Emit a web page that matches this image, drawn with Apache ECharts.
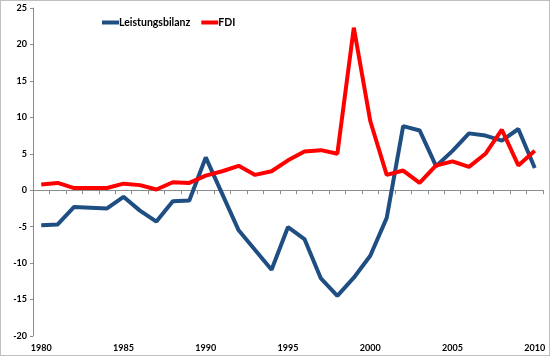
<!DOCTYPE html>
<html><head><meta charset="utf-8">
<script src="https://cdn.jsdelivr.net/npm/echarts@6/dist/echarts.min.js"></script>
<style>
html,body{margin:0;padding:0;background:#fff;}
#c{width:550px;height:356px;box-sizing:border-box;border:1px solid #BFBFBF;}
</style></head>
<body><div id="c"></div>
<script>
const years = ['1980','1981','1982','1983','1984','1985','1986','1987','1988','1989','1990','1991','1992','1993','1994','1995','1996','1997','1998','1999','2000','2001','2002','2003','2004','2005','2006','2007','2008','2009','2010'];
const leistungsbilanz = [-4.8,-4.7,-2.3,-2.4,-2.5,-0.9,-2.8,-4.3,-1.5,-1.4,4.5,-0.5,-5.5,-8.2,-10.9,-5.05,-6.7,-12.1,-14.5,-12.0,-9.0,-3.8,8.8,8.2,3.3,5.4,7.8,7.5,6.8,8.4,3.05];
const fdi = [0.8,1.0,0.3,0.3,0.3,0.9,0.7,0.1,1.1,1.0,2.0,2.6,3.35,2.1,2.6,4.1,5.3,5.5,5.0,22.3,9.5,2.1,2.7,1.0,3.4,3.95,3.2,5.0,8.3,3.4,5.4];
const yMin = -20, yMax = 25, yStep = 5;

const chart = echarts.init(document.getElementById('c'));
const font = 'Lato, "Open Sans", sans-serif';
chart.setOption({
  animation:false,
  grid:{left:32,right:6,top:7,bottom:19,containLabel:false},
  legend:{
    left:96, top:11,
    itemWidth:17, itemHeight:4, itemGap:11,
    icon:'rect',
    textStyle:{fontFamily:font,fontWeight:'bold',fontSize:10.5,color:'#000',padding:[0,0,0,-5]},
    data:['Leistungsbilanz','FDI']
  },
  xAxis:[{
    type:'category', data:years, boundaryGap:true,
    axisLine:{onZero:true,lineStyle:{color:'#8C8C8C',width:1}},
    axisTick:{show:true,interval:0,length:4,lineStyle:{color:'#8C8C8C'}},
    axisLabel:{show:false}
  },{
    type:'category', data:years, boundaryGap:true, position:'bottom',
    axisLine:{show:false,onZero:false}, axisTick:{show:false},
    axisLabel:{interval:4,fontFamily:font,fontWeight:'bold',fontSize:9,color:'#000',margin:8}
  }],
  yAxis:{
    type:'value', min:yMin, max:yMax, interval:yStep,
    axisLine:{show:true,lineStyle:{color:'#8C8C8C'}},
    axisTick:{show:true,length:3,lineStyle:{color:'#8C8C8C'}},
    splitLine:{show:false},
    axisLabel:{fontFamily:font,fontWeight:'bold',fontSize:9,color:'#000',margin:6}
  },
  series:[{
    name:'Leistungsbilanz', type:'line', data:leistungsbilanz, xAxisIndex:0,
    symbol:'none', lineStyle:{color:'#1F4E83',width:4}, itemStyle:{color:'#1F4E83'}
  },{
    name:'FDI', type:'line', data:fdi, xAxisIndex:0,
    symbol:'none', lineStyle:{color:'#FF0000',width:4}, itemStyle:{color:'#FF0000'}
  }]
});
</script></body></html>
